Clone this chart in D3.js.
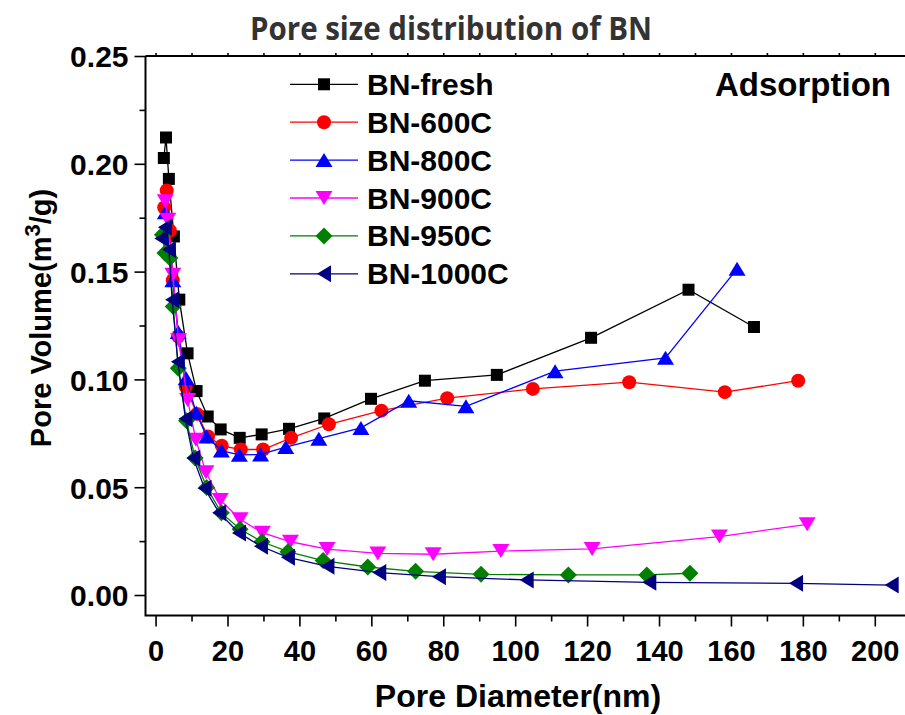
<!DOCTYPE html>
<html><head><meta charset="utf-8">
<script src="https://cdn.jsdelivr.net/npm/d3@7"></script>
<style>body{margin:0;background:#fff}svg{display:block}</style>
</head><body><svg id="c" width="905" height="715"></svg>
<script>
const seriesNames = ["BN-fresh","BN-600C","BN-800C","BN-900C","BN-950C","BN-1000C"];
const seriesColors = ["#000000","#ff0000","#0000ff","#ff00ff","#008000","#000080"];
const seriesSymbols = ["square","circle","up","down","diamond","left"];

const freshX = [2.3, 2.9, 3.7, 5.1, 6.6, 8.9, 11.4, 14.5, 18.1, 23.4, 29.5, 37.1, 46.9, 59.9, 74.9, 94.9, 121.1, 148.2, 166.4];
const freshY = [0.2027, 0.2122, 0.1930, 0.1663, 0.1370, 0.1121, 0.0946, 0.0828, 0.0768, 0.0729, 0.0745, 0.0771, 0.0819, 0.0910, 0.0994, 0.1021, 0.1193, 0.1416, 0.1243];

const c600X = [2.4, 3.1, 4.0, 4.8, 6.3, 8.4, 11.5, 14.6, 18.4, 23.7, 29.9, 37.7, 48.2, 62.8, 81.1, 104.9, 131.7, 158.3, 178.7];
const c600Y = [0.1797, 0.1876, 0.1690, 0.1460, 0.1200, 0.0966, 0.0840, 0.0735, 0.0692, 0.0675, 0.0675, 0.0729, 0.0792, 0.0855, 0.0913, 0.0956, 0.0987, 0.0941, 0.0994];

const c800X = [2.7, 4.8, 6.3, 8.5, 11.3, 14.2, 18.3, 23.3, 29.2, 36.2, 45.4, 57.1, 70.4, 86.3, 111.1, 141.8, 161.7];
const c800Y = [0.1775, 0.1460, 0.1220, 0.1005, 0.0845, 0.0735, 0.0670, 0.0650, 0.0652, 0.0686, 0.0725, 0.0775, 0.0901, 0.0875, 0.1038, 0.1100, 0.1513];

const c900X = [2.7, 3.4, 4.8, 6.4, 8.9, 11.2, 14.0, 18.0, 23.5, 29.7, 37.5, 47.7, 61.8, 77.2, 96.0, 121.4, 156.8, 181.2];
const c900Y = [0.1826, 0.1741, 0.1486, 0.1182, 0.0905, 0.0720, 0.0569, 0.0441, 0.0351, 0.0289, 0.0247, 0.0213, 0.0193, 0.0189, 0.0204, 0.0214, 0.0271, 0.0328];

const c950X = [1.9, 2.6, 4.0, 4.9, 6.3, 8.6, 11.0, 14.2, 18.3, 23.5, 29.6, 36.8, 46.6, 59.0, 72.3, 90.5, 114.8, 136.6, 148.6];
const c950Y = [0.1671, 0.1586, 0.1563, 0.1338, 0.1052, 0.0808, 0.0635, 0.0499, 0.0381, 0.0305, 0.0247, 0.0201, 0.0160, 0.0130, 0.0110, 0.0096, 0.0093, 0.0093, 0.0101];

const c1000X = [1.6, 2.6, 3.7, 4.6, 6.2, 8.3, 10.5, 13.6, 17.7, 23.2, 29.3, 36.8, 47.8, 62.2, 78.8, 103.2, 137.3, 178.1, 204.7];
const c1000Y = [0.1653, 0.1706, 0.1602, 0.1370, 0.1082, 0.0818, 0.0636, 0.0495, 0.0381, 0.0288, 0.0226, 0.0175, 0.0133, 0.0104, 0.0085, 0.0070, 0.0059, 0.0054, 0.0046];

const xMajorTicks = [0,20,40,60,80,100,120,140,160,180,200];
const yMajorTicks = [0.00,0.05,0.10,0.15,0.20,0.25];

const titleText = "Pore size distribution of BN";
const xTitle = "Pore Diameter(nm)";
const annotation = "Adsorption";

const allX = [freshX,c600X,c800X,c900X,c950X,c1000X];
const allY = [freshY,c600Y,c800Y,c900Y,c950Y,c1000Y];
const series = seriesNames.map((n,i)=>({name:n,color:seriesColors[i],sym:seriesSymbols[i],
  pts:allX[i].map((x,j)=>({x:x,y:allY[i][j]}))}));

const svg = d3.select("#c");
const L=145.5, R=905, T=56, B=615.5;
const x = d3.scaleLinear().domain([-2.8, 208.4]).range([L, R]);
const y = d3.scaleLinear().domain([-0.0095, 0.25]).range([B, T]);
const FONT = "'Liberation Sans', Arial, sans-serif";

function symPath(s){
  switch(s){
    case "square": return "M-6,-6H6V6H-6Z";
    case "circle": return d3.symbol(d3.symbolCircle, Math.PI*49)();
    case "up": return "M0,-7L8.5,7L-8.5,7Z";
    case "down": return "M0,7L8.5,-7L-8.5,-7Z";
    case "left": return "M-7,0L7,-8.5L7,8.5Z";
    case "diamond": return "M0,-8.5L8.5,0L0,8.5L-8.5,0Z";
  }
}

// axes
const gx = svg.append("g").attr("transform",`translate(0,${B})`);
gx.call(d3.axisBottom(x).tickValues(xMajorTicks).tickSize(11).tickSizeOuter(0).tickFormat(d3.format("d")));
const gxm = svg.append("g").attr("transform",`translate(0,${B})`);
gxm.call(d3.axisBottom(x).tickValues(d3.range(10,210,20)).tickSize(6).tickSizeOuter(0).tickFormat(""));
const gt = svg.append("g").attr("transform",`translate(0,${T})`);
gt.call(d3.axisTop(x).tickValues(d3.range(0,210,10)).tickSize(3).tickSizeOuter(0).tickFormat(""));
const gy = svg.append("g").attr("transform",`translate(${L},0)`);
gy.call(d3.axisLeft(y).tickValues(yMajorTicks).tickSize(11).tickSizeOuter(0).tickFormat(d3.format(".2f")));
const gym = svg.append("g").attr("transform",`translate(${L},0)`);
gym.call(d3.axisLeft(y).tickValues([0.025,0.075,0.125,0.175,0.225]).tickSize(6).tickSizeOuter(0).tickFormat(""));

svg.selectAll(".domain").remove();
svg.selectAll(".tick line").attr("stroke","#000").attr("stroke-width",1.6);
gx.selectAll("text").attr("y",45.5).attr("dy",0).attr("font-family",FONT).attr("font-weight","bold").attr("font-size",29).attr("fill","#000");
gy.selectAll("text").attr("x",-17).attr("dy","0.36em").attr("font-family",FONT).attr("font-weight","bold").attr("font-size",30).attr("fill","#000");

// frame
svg.append("path").attr("d",`M${L},${T}H${R+2}M${L},${T}V${B}M${L-1},${B}H${R+2}`)
  .attr("stroke","#000").attr("stroke-width",2).attr("fill","none");

// series
const line = d3.line().x(d=>x(d.x)).y(d=>y(d.y));
series.forEach(s=>{
  const g = svg.append("g");
  g.append("path").datum(s.pts).attr("d",line).attr("fill","none").attr("stroke",s.color).attr("stroke-width",1.3);
  g.selectAll("path.m").data(s.pts).join("path").attr("class","m")
    .attr("d",symPath(s.sym)).attr("transform",d=>`translate(${x(d.x)},${y(d.y)})`).attr("fill",s.color);
});

// legend
const leg = svg.append("g");
series.forEach((s,i)=>{
  const cy = 84.3 + i*37.9;
  leg.append("line").attr("x1",290).attr("x2",358).attr("y1",cy).attr("y2",cy).attr("stroke",s.color).attr("stroke-width",1.3);
  leg.append("path").attr("d",symPath(s.sym)).attr("transform",`translate(324,${cy})`).attr("fill",s.color);
  leg.append("text").attr("x",367).attr("y",cy+10.5).text(s.name)
    .attr("font-family",FONT).attr("font-weight","bold").attr("font-size",30).attr("fill","#000");
});

svg.append("text").attr("x",715).attr("y",96).text(annotation)
  .attr("font-family",FONT).attr("font-weight","bold").attr("font-size",33).attr("fill","#000");

// titles
svg.append("text").attr("x",250).attr("y",40).text(titleText)
  .attr("textLength",402).attr("lengthAdjust","spacingAndGlyphs")
  .attr("font-family","'Open Sans', sans-serif").attr("font-weight",700).attr("font-size",33).attr("fill","#333");
svg.append("text").attr("x",518).attr("y",707).attr("text-anchor","middle").text(xTitle)
  .attr("font-family",FONT).attr("font-weight","bold").attr("font-size",32).attr("fill","#000");
const yt = svg.append("text").attr("transform","translate(51,318) rotate(-90)").attr("text-anchor","middle")
  .attr("font-family",FONT).attr("font-weight","bold").attr("font-size",29).attr("fill","#000");
yt.append("tspan").text("Pore Volume(m");
yt.append("tspan").text("3").attr("font-size",22).attr("dy",-11);
yt.append("tspan").text("/g)").attr("dy",11);
</script></body></html>
